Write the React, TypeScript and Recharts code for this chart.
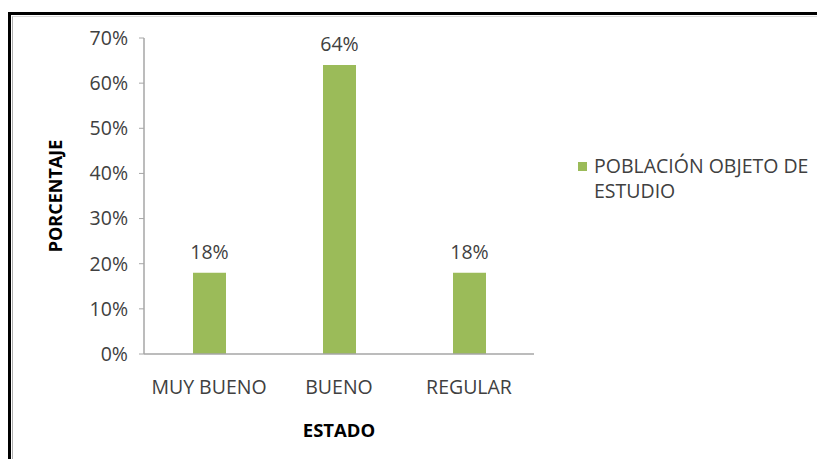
import { BarChart, Bar, XAxis, YAxis, LabelList } from 'recharts';

const categories = ['MUY BUENO', 'BUENO', 'REGULAR'];
const porcentajes = [18, 64, 18];
const yTicks = [0, 10, 20, 30, 40, 50, 60, 70];
const seriesName = 'POBLACIÓN OBJETO DE ESTUDIO';

const GREEN = '#9bbb59';
const AXIS = '#a6a6a6';
const TEXT = '#404040';
const FONT = '"Open Sans", "DejaVu Sans", sans-serif';
const FS = 19.5;

const data = categories.map((c, i) => ({ name: c, value: porcentajes[i] }));

export default function App() {
  return (
    <div style={{ position: 'fixed', left: 0, top: 0, width: 817, height: 459, background: '#fff', overflow: 'hidden', fontFamily: FONT }}>
      {/* frame of the pasted chart */}
      <div style={{ position: 'absolute', left: 8, top: 12, width: 900, height: 600, borderLeft: '3px solid #000', borderTop: '3px solid #000' }} />
      <div style={{ position: 'absolute', left: 12, top: 16, width: 900, height: 600, borderLeft: '1px solid #b0b0b0', borderTop: '1px solid #d8d8d8' }} />

      <div style={{ position: 'absolute', left: 0, top: 0 }}>
        <BarChart width={817} height={459} data={data} margin={{ top: 38, right: 283, bottom: 75, left: 0 }}>
          <YAxis
            width={144}
            domain={[0, 70]}
            ticks={yTicks}
            tickFormatter={(v: number) => `${v}%`}
            axisLine={{ stroke: AXIS, strokeWidth: 1.5 }}
            tickLine={{ stroke: AXIS }}
            tickSize={5}
            tickMargin={11}
            tick={{ fill: TEXT, fontSize: FS, fontFamily: FONT }}
            label={{ value: 'PORCENTAJE', angle: -90, position: 'insideLeft', dx: 51, dy: 0, style: { fill: '#000', fontWeight: 700, fontSize: 18, fontFamily: FONT, textAnchor: 'middle' } }}
          />
          <XAxis
            dataKey="name"
            height={30}
            axisLine={{ stroke: AXIS, strokeWidth: 1.5 }}
            tickLine={false}
            tickMargin={20}
            tick={{ fill: TEXT, fontSize: FS, fontFamily: FONT }}
            label={{ value: 'ESTADO', position: 'insideBottom', dy: 58, style: { fill: '#000', fontWeight: 700, fontSize: 18.5, fontFamily: FONT } }}
          />
          <Bar dataKey="value" name={seriesName} fill={GREEN} barSize={33} isAnimationActive={false}>
            <LabelList dataKey="value" position="top" offset={14} formatter={(v: number) => `${v}%`} style={{ fill: TEXT, fontSize: FS, fontFamily: FONT }} />
          </Bar>
        </BarChart>
      </div>

      {/* legend */}
      <div style={{ position: 'absolute', left: 578, top: 153, display: 'flex', alignItems: 'flex-start', color: TEXT, fontSize: FS, lineHeight: '25px' }}>
        <div style={{ width: 9, height: 9, background: GREEN, marginTop: 9, marginRight: 7 }} />
        <div style={{ width: 235 }}>POBLACIÓN OBJETO DE<br />ESTUDIO</div>
      </div>
    </div>
  );
}
